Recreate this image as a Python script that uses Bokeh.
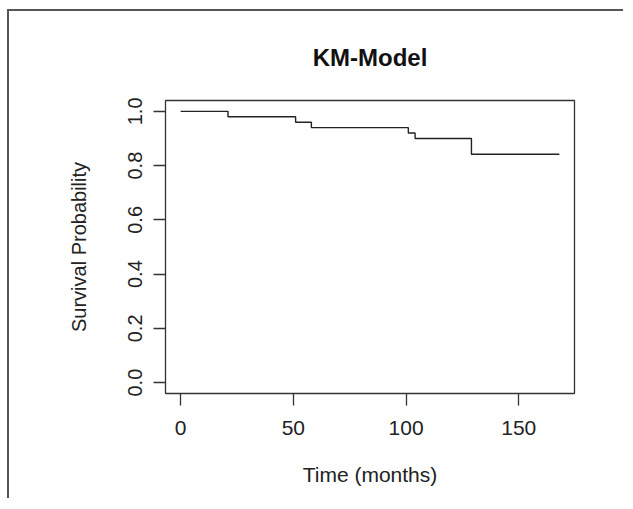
from bokeh.plotting import figure
from bokeh.models import Range1d, FixedTicker
from bokeh.embed import file_html
from bokeh.resources import INLINE

# Kaplan-Meier step data
times = [0, 21, 51, 58, 101, 104, 129, 168]
surv = [1.0, 0.98, 0.96, 0.94, 0.92, 0.90, 0.842, 0.842]

x_ticks = [0, 50, 100, 150]
y_ticks = [0.0, 0.2, 0.4, 0.6, 0.8, 1.0]
y_tick_labels = ["0.0", "0.2", "0.4", "0.6", "0.8", "1.0"]

title_text = "KM-Model"
x_label = "Time (months)"
y_label = "Survival Probability"

FONT = "Liberation Sans"

p = figure(
    frame_width=409, frame_height=293,
    min_border_left=156, min_border_right=49,
    min_border_top=87, min_border_bottom=105,
    x_range=Range1d(-6.72, 174.72), y_range=Range1d(-0.04, 1.04),
    output_backend="svg", toolbar_location=None,
    title=title_text,
)
p.styles = {
    "margin-left": "7px", "margin-top": "9px",
    "border-top": "2px solid #555555", "border-left": "2px solid #555555",
}

p.step(times, surv, mode="after", line_color="#222222", line_width=1.4)

p.grid.visible = False
p.outline_line_color = "#333333"
p.outline_line_width = 1.3
p.background_fill_color = "white"
p.border_fill_color = "white"

p.title.align = "center"
p.title.text_font = FONT
p.title.text_font_size = "24px"
p.title.text_font_style = "bold"
p.title.text_color = "#111111"
p.title.standoff = 60

for ax in (p.xaxis[0], p.yaxis[0]):
    ax.axis_line_color = None
    ax.major_tick_line_color = "#333333"
    ax.major_tick_line_width = 1.3
    ax.major_tick_out = 12
    ax.major_tick_in = 0
    ax.minor_tick_line_color = None
    ax.major_label_text_font = FONT
    ax.major_label_text_color = "#222222"
    ax.axis_label_text_font = FONT
    ax.axis_label_text_font_style = "normal"
    ax.axis_label_text_color = "#222222"

p.xaxis[0].ticker = FixedTicker(ticks=x_ticks)
p.xaxis[0].axis_label = x_label
p.xaxis[0].major_label_text_font_size = "21px"
p.xaxis[0].axis_label_text_font_size = "21px"
p.xaxis[0].major_label_standoff = 15
p.xaxis[0].axis_label_standoff = 25

p.yaxis[0].ticker = FixedTicker(ticks=y_ticks)
p.yaxis[0].major_label_overrides = {t: l for t, l in zip(y_ticks, y_tick_labels)}
p.yaxis[0].major_label_orientation = "vertical"
p.yaxis[0].axis_label = y_label
p.yaxis[0].major_label_text_font_size = "20px"
p.yaxis[0].axis_label_text_font_size = "20px"
p.yaxis[0].major_label_standoff = 11
p.yaxis[0].axis_label_standoff = 36

open("out.html", "w").write(file_html(p, INLINE))
